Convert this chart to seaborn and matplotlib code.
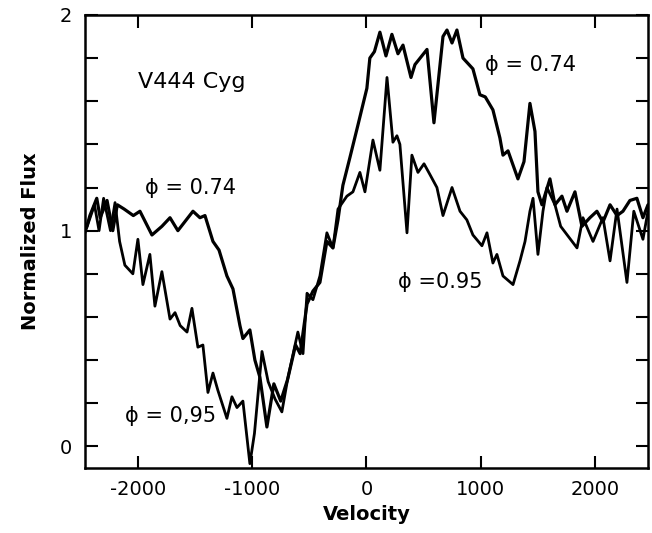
import numpy as np
import pandas as pd
import matplotlib
matplotlib.use("Agg")
import matplotlib.pyplot as plt
import seaborn as sns

# velocity / flux
vel_074 = [-2470, -2447, -2420, -2360, -2330, -2270, -2220, -2180, -2120, -2040,
           -1982, -1877, -1790, -1719, -1650, -1518, -1457, -1413, -1343, -1290,
           -1221, -1168, -1107, -1081, -1020, -976, -932, -871, -810, -750,
           -690, -620, -580, -520, -468, -407, -346, -293, -249, -206,
           -144, -74, 4, 30, 70, 118, 171, 223, 276, 320,
           390, 425, 530, 591, 670, 705, 749, 792, 845, 932,
           993, 1040, 1107, 1168, 1195, 1239, 1326, 1379, 1431, 1475,
           1501, 1536, 1606, 1650, 1711, 1755, 1825, 1886, 1956, 2017,
           2070, 2132, 2193, 2245, 2306, 2367, 2420, 2464]
flux_074 = [1.00, 1.02, 1.07, 1.15, 1.06, 1.14, 1.00, 1.12, 1.10, 1.07,
            1.09, 0.98, 1.02, 1.06, 1.00, 1.09, 1.06, 1.07, 0.95, 0.91,
            0.79, 0.73, 0.56, 0.50, 0.54, 0.40, 0.32, 0.09, 0.29, 0.21,
            0.31, 0.47, 0.43, 0.66, 0.72, 0.76, 0.95, 0.92, 1.05, 1.21,
            1.34, 1.49, 1.66, 1.80, 1.83, 1.92, 1.81, 1.91, 1.82, 1.86,
            1.71, 1.77, 1.84, 1.50, 1.90, 1.93, 1.87, 1.93, 1.80, 1.75,
            1.63, 1.62, 1.56, 1.43, 1.35, 1.37, 1.24, 1.32, 1.59, 1.46,
            1.18, 1.12, 1.24, 1.12, 1.16, 1.09, 1.18, 1.02, 1.06, 1.09,
            1.04, 1.12, 1.07, 1.09, 1.14, 1.15, 1.06, 1.12]

vel_095 = [-2470, -2450, -2380, -2340, -2300, -2240, -2200, -2160, -2114, -2044,
           -2000, -1956, -1895, -1851, -1790, -1719, -1675, -1630, -1570, -1527,
           -1475, -1431, -1387, -1343, -1300, -1221, -1177, -1133, -1081, -1020,
           -980, -914, -860, -800, -740, -690, -600, -555, -520, -468,
           -407, -346, -293, -249, -171, -118, -57, -13, 57, 118,
           180, 232, 267, 293, 355, 398, 451, 504, 556, 617,
           670, 749, 819, 879, 932, 1011, 1055, 1107, 1142, 1195,
           1283, 1344, 1388, 1431, 1458, 1501, 1545, 1580, 1650, 1700,
           1843, 1895, 1983, 2070, 2132, 2193, 2280, 2340, 2420, 2464]
flux_095 = [0.98, 1.01, 1.12, 1.00, 1.15, 1.00, 1.13, 0.95, 0.84, 0.80,
            0.96, 0.75, 0.89, 0.65, 0.81, 0.59, 0.62, 0.56, 0.53, 0.64,
            0.46, 0.47, 0.25, 0.34, 0.26, 0.13, 0.23, 0.18, 0.21, -0.08,
            0.06, 0.44, 0.30, 0.22, 0.16, 0.31, 0.53, 0.43, 0.71, 0.68,
            0.79, 0.99, 0.92, 1.10, 1.16, 1.18, 1.27, 1.18, 1.42, 1.28,
            1.71, 1.41, 1.44, 1.40, 0.99, 1.35, 1.27, 1.31, 1.26, 1.20,
            1.07, 1.20, 1.09, 1.05, 0.98, 0.93, 0.99, 0.85, 0.89, 0.79,
            0.75, 0.86, 0.95, 1.09, 1.15, 0.89, 1.09, 1.20, 1.12, 1.02,
            0.92, 1.06, 0.95, 1.06, 0.86, 1.10, 0.76, 1.09, 0.96, 1.09]

xticks = [-2000, -1000, 0, 1000, 2000]
xtick_labels = ["-2000", "-1000", "0", "1000", "2000"]
yticks = np.round(np.arange(0, 2.01, 0.2), 1)
ytick_labels = ["0", "", "", "", "", "1", "", "", "", "", "2"]

df074 = pd.DataFrame({"Velocity": vel_074, "Flux": flux_074})
df095 = pd.DataFrame({"Velocity": vel_095, "Flux": flux_095})

sns.set_theme(style="ticks")
plt.rcParams["font.family"] = ["DejaVu Sans"]
plt.rcParams["text.color"] = "black"
plt.rcParams["axes.labelcolor"] = "black"

fig = plt.figure(figsize=(6.52, 5.33), dpi=100)
ax = fig.add_axes([0.130, 0.122, 0.864, 0.850])

sns.lineplot(data=df074, x="Velocity", y="Flux", ax=ax, color="black",
             linewidth=2.3, estimator=None, sort=False)
sns.lineplot(data=df095, x="Velocity", y="Flux", ax=ax, color="black",
             linewidth=2.0, estimator=None, sort=False)

ax.set_xlim(-2465, 2465)
ax.set_ylim(-0.1, 2.0)
ax.set_xticks(xticks)
ax.set_xticklabels(xtick_labels)
ax.set_yticks(yticks)
ax.set_yticklabels(ytick_labels)
ax.tick_params(direction="in", top=True, right=True, length=9, width=1.5,
               color="black", labelsize=14, pad=9, labelcolor="black")
for s in ax.spines.values():
    s.set_linewidth(1.8)
    s.set_color("black")

ax.set_xlabel("Velocity", fontsize=14, fontweight="bold", labelpad=4)
ax.set_ylabel("Normalized Flux", fontsize=14, fontweight="bold", labelpad=14)

ax.text(-2000, 1.69, "V444 Cyg", fontsize=16, ha="left", va="center")
ax.text(-1939, 1.20, "ϕ = 0.74", fontsize=15, ha="left", va="center")
ax.text(1037, 1.77, "ϕ = 0.74", fontsize=15, ha="left", va="center")
ax.text(276, 0.76, "ϕ =0.95", fontsize=15, ha="left", va="center")
ax.text(-2114, 0.14, "ϕ = 0,95", fontsize=15, ha="left", va="center")

fig.savefig("out.png", dpi=100)
